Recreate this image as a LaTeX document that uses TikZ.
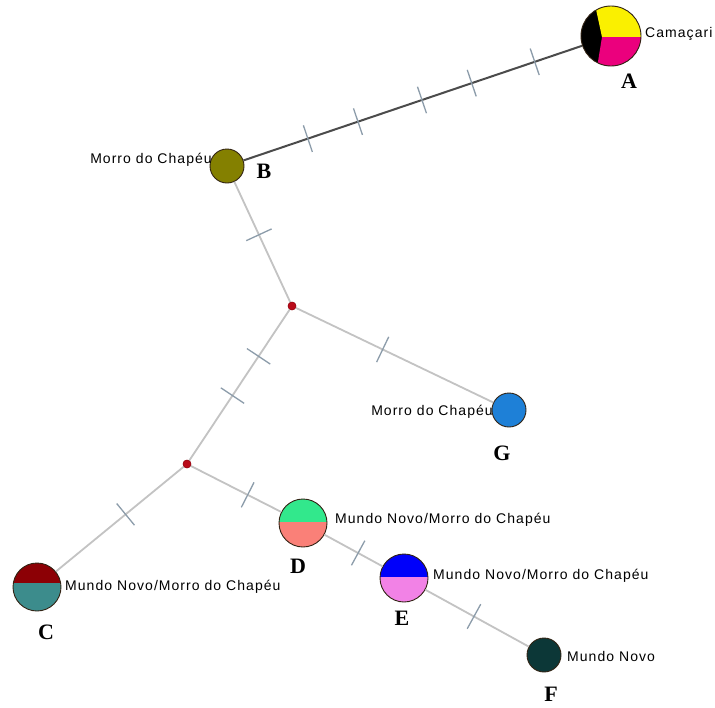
\documentclass[tikz,border=0pt]{standalone}
\usepackage{fontspec}
\usetikzlibrary{decorations.markings,calc}
\newfontfamily\labfont[LetterSpace=7.5]{Liberation Sans}
\newfontfamily\letfont{Liberation Serif}
\definecolor{cYel}{RGB}{250,240,0}
\definecolor{cMag}{RGB}{235,0,125}
\definecolor{cOli}{RGB}{132,128,0}
\definecolor{cBlu}{RGB}{30,128,215}
\definecolor{cRedC}{RGB}{140,0,5}
\definecolor{cTeal}{RGB}{60,140,140}
\definecolor{cGrn}{RGB}{50,232,140}
\definecolor{cSal}{RGB}{250,128,120}
\definecolor{cBlueE}{RGB}{0,0,250}
\definecolor{cPink}{RGB}{242,130,230}
\definecolor{cDark}{RGB}{12,55,55}
\definecolor{cEdge}{RGB}{195,195,195}
\definecolor{cEdgeDark}{RGB}{75,75,75}
\definecolor{cTick}{RGB}{140,156,170}
\definecolor{cMv}{RGB}{185,10,25}
\definecolor{cBorder}{RGB}{50,35,20}
\newcommand\hapTick{\draw[cTick,line width=1.3pt] (0pt,-14pt) -- (0pt,14pt);}
\begin{document}
\begin{tikzpicture}[x=1pt,y=-1pt,
  hap/.style={circle,draw=cBorder,line width=0.9pt,inner sep=0pt,minimum size=#1},
  half/.style n args={3}{path picture={
     \fill[#1] (path picture bounding box.north west) rectangle ($(path picture bounding box.east)+(0,#3)$);
     \fill[#2] (path picture bounding box.south west) rectangle ($(path picture bounding box.east)+(0,#3)$);}},
  mvec/.style={circle,fill=cMv,draw=cMv!80!black,line width=0.4pt,minimum size=8pt,inner sep=0pt},
  lab/.style={font=\labfont\fontsize{14}{16}\selectfont,inner sep=0pt},
  letr/.style={font=\letfont\bfseries\fontsize{22}{24}\selectfont,inner sep=0pt},
  edge/.style={draw=cEdge,line width=1.8pt},
  darkedge/.style={draw=cEdgeDark,line width=2pt}]
\useasboundingbox (0,0) rectangle (715,707);
\fill[white] (0,0) rectangle (715,707);
% nodes
\node[hap=60pt,path picture={
   \fill[black] (path picture bounding box.south west) rectangle (path picture bounding box.north east);
   \fill[cYel] ($(path picture bounding box.center)+(-9,1)$) -- ($(path picture bounding box.center)+(-17,-36)$) -- ($(path picture bounding box.center)+(40,-36)$) -- ($(path picture bounding box.center)+(40,1)$) -- cycle;
   \fill[cMag] ($(path picture bounding box.center)+(-9,1)$) -- ($(path picture bounding box.center)+(40,1)$) -- ($(path picture bounding box.center)+(40,44)$) -- ($(path picture bounding box.center)+(-16,44)$) -- cycle;}] (A) at (611,36) {};
\node[hap=34pt,fill=cOli] (B) at (227,166) {};
\node[mvec] (m1) at (292,306) {};
\node[hap=34pt,fill=cBlu] (G) at (509,410) {};
\node[mvec] (m2) at (187,464) {};
\node[hap=48pt,half={cRedC}{cTeal}{-4}] (C) at (37,587) {};
\node[hap=48pt,half={cGrn}{cSal}{-1}] (D) at (303,523) {};
\node[hap=48pt,half={cBlueE}{cPink}{-1}] (E) at (404,578) {};
\node[hap=34pt,fill=cDark] (F) at (544,655) {};
% edges
\draw[darkedge,postaction={decorate,decoration={markings,
   mark=at position 0.19 with {\hapTick},
   mark=at position 0.338 with {\hapTick},
   mark=at position 0.527 with {\hapTick},
   mark=at position 0.674 with {\hapTick},
   mark=at position 0.86 with {\hapTick}}}] (B) -- (A);
\draw[edge,postaction={decorate,decoration={markings,mark=at position 0.44 with {\hapTick}}}] (B) -- (m1);
\draw[edge,postaction={decorate,decoration={markings,mark=at position 0.44 with {\hapTick}}}] (m1) -- (G);
\draw[edge,postaction={decorate,decoration={markings,
   mark=at position 0.31 with {\hapTick},
   mark=at position 0.57 with {\hapTick}}}] (m1) -- (m2);
\draw[edge,postaction={decorate,decoration={markings,mark=at position 0.455 with {\hapTick}}}] (m2) -- (C);
\draw[edge,postaction={decorate,decoration={markings,mark=at position 0.63 with {\hapTick}}}] (m2) -- (D);
\draw[edge,postaction={decorate,decoration={markings,mark=at position 0.58 with {\hapTick}}}] (D) -- (E);
\draw[edge,postaction={decorate,decoration={markings,mark=at position 0.47 with {\hapTick}}}] (E) -- (F);
% redraw median vectors on top
\node[mvec] at (m1) {};
\node[mvec] at (m2) {};
% labels
\node[lab,anchor=base west] (lA) at (645,37.5) {Camaçari};
\node[lab,anchor=base east] (lB) at (212,163) {Morro do Chapéu};
\node[lab,anchor=base east] (lG) at (493,415) {Morro do Chapéu};
\node[lab,anchor=base west] (lC) at (65,590) {Mundo Novo/Morro do Chapéu};
\node[lab,anchor=base west] (lD) at (335,523) {Mundo Novo/Morro do Chapéu};
\node[lab,anchor=base west] (lE) at (433,579) {Mundo Novo/Morro do Chapéu};
\node[lab,anchor=base west] (lF) at (567,661) {Mundo Novo};
% letters
\node[letr] (tA) at (629,81) {A};
\node[letr] (tB) at (264,171) {B};
\node[letr] (tG) at (502,453) {G};
\node[letr] (tC) at (46,632) {C};
\node[letr] (tD) at (298,566) {D};
\node[letr] (tE) at (402,618) {E};
\node[letr] (tF) at (551,694) {F};
\end{tikzpicture}
\end{document}
